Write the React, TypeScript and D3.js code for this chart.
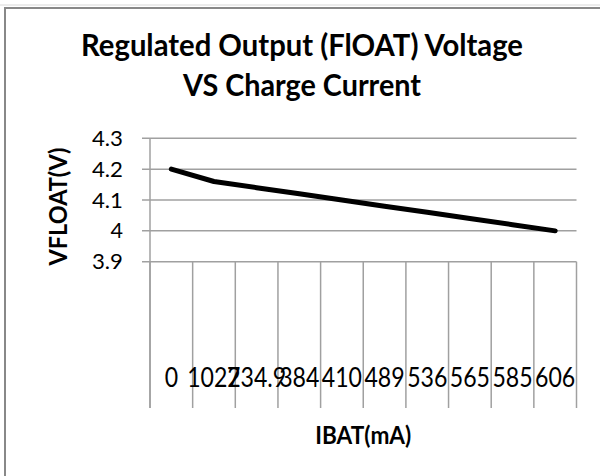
import React from "react";
import * as d3 from "d3";

const categories = ["0", "1022", "734.9", "384", "410", "489", "536", "565", "585", "606"];
const vfloat = [4.2, 4.16, 4.14, 4.12, 4.1, 4.08, 4.06, 4.04, 4.02, 4.0];
const yTicks = [3.9, 4.0, 4.1, 4.2, 4.3];
const yTickLabels = ["3.9", "4", "4.1", "4.2", "4.3"];
const titleLines = ["Regulated Output (FlOAT) Voltage", "VS Charge Current"];
const xTitle = "IBAT(mA)";
const yTitle = "VFLOAT(V)";

const labelWidth = (s: string, digit: number, dot: number) =>
  s.split("").reduce((a, c) => a + (c === "." ? dot : digit), 0);

export default function App() {
  const W = 600, H = 476;
  const left = 150, right = 576.5, top = 138.3, bottom = 261.7;
  const tickBottom = 408;
  const x = d3.scaleBand<string>().domain(categories).range([left, right]);
  const y = d3.scaleLinear().domain([3.9, 4.3]).range([bottom, top]);
  const cx = (i: number) => (x(categories[i]) as number) + x.bandwidth() / 2;
  const linePath = d3.line<number>().x((_, i) => cx(i)).y((d) => y(d))(vfloat) || "";
  const boundaries = categories.map((c) => x(c) as number).concat([right]);
  const grid = "#a0a0a0";
  const font = "Lato, 'Open Sans', sans-serif";

  return (
    <svg width={W} height={H} style={{ position: "absolute", left: 0, top: 0, background: "#fff" }}>
      <rect x={0} y={0} width={W} height={H} fill="#fff" />
      <line x1={0} x2={W} y1={5} y2={5} stroke="#d8d8d8" strokeWidth={1} />
      <rect x={5} y={8} width={W + 20} height={H + 20} fill="#fff" stroke="#888" strokeWidth={2} />

      {titleLines.map((t, i) => (
        <text key={t} x={302} y={i === 0 ? 56 : 96} textAnchor="middle" fontFamily={font}
          fontWeight={700} fontSize={31} fill="#000"
          textLength={i === 0 ? 442 : 238} lengthAdjust="spacingAndGlyphs">{t}</text>
      ))}

      {/* horizontal gridlines and y ticks */}
      {yTicks.map((t, i) => (
        <g key={t}>
          <line x1={left - 8} x2={right} y1={y(t)} y2={y(t)} stroke={grid} strokeWidth={1.5} />
          <text x={123} y={y(t) + 7.5} textAnchor="end" fontFamily={font} fontSize={21} fill="#000"
            textLength={labelWidth(yTickLabels[i], 12.5, 6)} lengthAdjust="spacingAndGlyphs">
            {yTickLabels[i]}
          </text>
        </g>
      ))}

      {/* y axis */}
      <line x1={left} x2={left} y1={top} y2={tickBottom} stroke={grid} strokeWidth={1.5} />

      {/* x category tick lines */}
      {boundaries.map((b, i) => (
        <line key={i} x1={b} x2={b} y1={bottom} y2={tickBottom} stroke={grid} strokeWidth={1.5} />
      ))}

      {/* x labels */}
      {categories.map((c, i) => (
        <text key={c} x={cx(i)} y={387} textAnchor="middle" fontFamily={font} fontSize={26}
          fill="#000" textLength={labelWidth(c, 13.4, 5.5)} lengthAdjust="spacingAndGlyphs">{c}</text>
      ))}

      {/* data line */}
      <path d={linePath} fill="none" stroke="#000" strokeWidth={5} strokeLinecap="round" strokeLinejoin="round" />

      {/* axis titles */}
      <text x={(left + right) / 2} y={444} textAnchor="middle" fontFamily={font} fontWeight={700}
        fontSize={25} fill="#000" textLength={96} lengthAdjust="spacingAndGlyphs">{xTitle}</text>
      <text transform={`translate(67,${206.5}) rotate(-90)`} textAnchor="middle" fontFamily={font}
        fontWeight={700} fontSize={25} fill="#000" textLength={118} lengthAdjust="spacingAndGlyphs">{yTitle}</text>
    </svg>
  );
}
